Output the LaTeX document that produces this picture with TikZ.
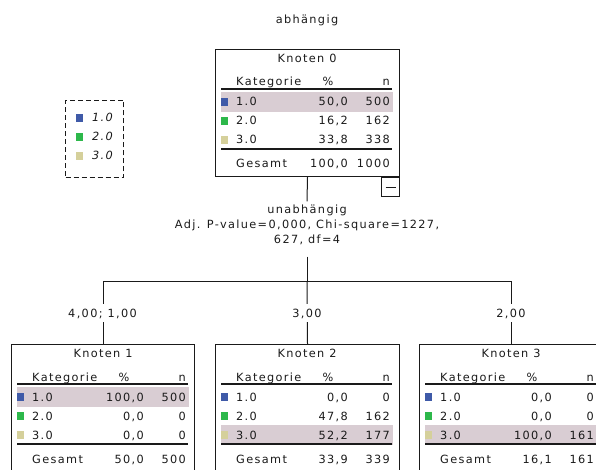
\documentclass[tikz,border=0pt]{standalone}
\usepackage{fontspec}
\setmainfont{DejaVu Sans}[LetterSpace=12]
\newfontfamily\knfont{DejaVu Sans}[LetterSpace=12]
\definecolor{catA}{HTML}{3F5AA8}
\definecolor{catB}{HTML}{2DB84B}
\definecolor{catC}{HTML}{D5D09B}
\definecolor{hlcol}{HTML}{D9CDD3}
\definecolor{ink}{HTML}{1A1A1A}
\tikzset{
  box/.style={draw=ink, line width=1bp, minimum width=184bp, anchor=north west, inner sep=0pt},
  kt/.style={inner sep=0pt, text=ink, font=\knfont\fontsize{11.3bp}{13bp}\selectfont, text height=8bp, text depth=0bp},
  kti/.style={kt, font=\knfont\itshape\fontsize{11.3bp}{13bp}\selectfont},
  lbl/.style={inner sep=0pt, text=ink, align=center, font=\knfont\fontsize{11.3bp}{15bp}\selectfont},
  elbl/.style={kt, fill=white, inner xsep=2bp, inner ysep=5bp},
  sq/.style={inner sep=0pt, minimum size=7.5bp, draw=none},
  rule/.style={draw=ink, line width=1.3bp},
  conn/.style={draw=ink, line width=1bp},
  hl/.style={fill=hlcol},
}
\newcommand\knheader[2]{%
  \node[kt] (#1title) at (92,9.5) {Knoten #2};
  \node[kt, anchor=west] (#1hk) at (21,33) {Kategorie};
  \node[kt] (#1hp) at (113,33) {\%};
  \node[kt, anchor=east] (#1hn) at (175,33) {n};
  \draw[rule] (6,40) -- (177,40);
}
\newcommand\knrow[5]{%
  \node[sq, fill=#3] (#1s#2) at (9.5,{34+19*#2}) {};
  \node[kt, anchor=west] (#1l#2) at (21,{34+19*#2}) {#2.0};
  \node[kt, anchor=east] (#1p#2) at (133,{34+19*#2}) {#4};
  \node[kt, anchor=east] (#1n#2) at (175,{34+19*#2}) {#5};
}
\newcommand\knhl[1]{\fill[hl] (6,{34+19*#1-10}) rectangle (178,{34+19*#1+10});}
\newcommand\knfoot[3]{%
  \draw[rule] (6,100) -- (177,100);
  \node[kt, anchor=west] (#1g) at (21,115) {Gesamt};
  \node[kt, anchor=east] (#1gp) at (133,115) {#2};
  \node[kt, anchor=east] (#1gn) at (175,115) {#3};
}
\begin{document}
\begin{tikzpicture}[x=1bp,y=-1bp]
\useasboundingbox (0,0) rectangle (596,470);
\clip (0,0) rectangle (596,470);

\node[kt] (title) at (307,20) {abhängig};

% legend
\node[draw=ink, line width=1bp, dash pattern=on 5bp off 3bp, minimum width=58bp, minimum height=77bp, anchor=north west, inner sep=0pt] (leg) at (65,100) {};
\node[sq, fill=catA] (legA) at (79.5,118) {};
\node[sq, fill=catB] (legB) at (79.5,137) {};
\node[sq, fill=catC] (legC) at (79.5,156) {};
\node[kti, anchor=west] (legAt) at (92,118) {1.0};
\node[kti, anchor=west] (legBt) at (92,137) {2.0};
\node[kti, anchor=west] (legCt) at (92,156) {3.0};

% node 0
\node[box, minimum height=127bp] (n0) at (215,49) {};
\begin{scope}[shift={(215,49)}]
  \knhl{1}
  \knheader{n0}{0}
  \knrow{n0}{1}{catA}{50,0}{500}
  \knrow{n0}{2}{catB}{16,2}{162}
  \knrow{n0}{3}{catC}{33,8}{338}
  \knfoot{n0}{100,0}{1000}
\end{scope}
\node[draw=ink, line width=1bp, minimum width=18bp, minimum height=19bp, anchor=north east, inner sep=0pt] (col) at (n0.south east) {};
\draw[ink, line width=0.9bp] ([xshift=-5bp]col.center) -- ([xshift=5bp]col.center);

% children
\node[box, minimum width=183bp, minimum height=150bp] (n1) at (11,344) {};
\begin{scope}[shift={(11,344)}]
  \knhl{1}
  \knheader{n1}{1}
  \knrow{n1}{1}{catA}{100,0}{500}
  \knrow{n1}{2}{catB}{0,0}{0}
  \knrow{n1}{3}{catC}{0,0}{0}
  \knfoot{n1}{50,0}{500}
\end{scope}
\node[box, minimum height=150bp] (n2) at (215,344) {};
\begin{scope}[shift={(215,344)}]
  \knhl{3}
  \knheader{n2}{2}
  \knrow{n2}{1}{catA}{0,0}{0}
  \knrow{n2}{2}{catB}{47,8}{162}
  \knrow{n2}{3}{catC}{52,2}{177}
  \knfoot{n2}{33,9}{339}
\end{scope}
\node[box, minimum height=150bp] (n3) at (419,344) {};
\begin{scope}[shift={(419,344)}]
  \knhl{3}
  \knheader{n3}{3}
  \knrow{n3}{1}{catA}{0,0}{0}
  \knrow{n3}{2}{catB}{0,0}{0}
  \knrow{n3}{3}{catC}{100,0}{161}
  \knfoot{n3}{16,1}{161}
\end{scope}

% connectors
\node[lbl] (stat) at (307,224.5) {unabhängig\\Adj. P-value=0,000, Chi-square=1227,\\627, df=4};
\coordinate (bus) at (307,281);
\draw[conn] (n0.south) -- ([yshift=3bp]stat.north);
\draw[conn] ([yshift=-12bp]stat.south) -- (bus);
\draw[conn] (bus) -| (n1.north);
\draw[conn] (bus) -- (n2.north);
\draw[conn] (bus) -| (n3.north);
\node[elbl] (e1) at (102.5,313) {4,00; 1,00};
\node[elbl] (e2) at (307,313) {3,00};
\node[elbl] (e3) at (511,313) {2,00};
\end{tikzpicture}
\end{document}
